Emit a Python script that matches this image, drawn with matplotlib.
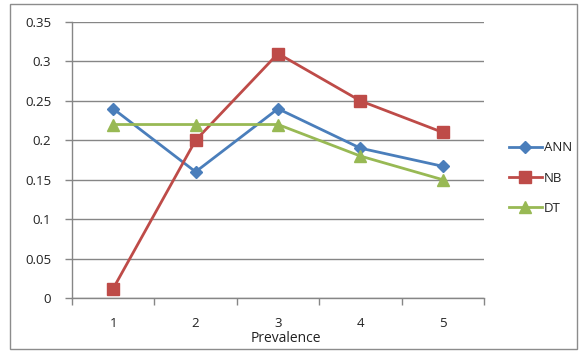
import matplotlib
matplotlib.use("Agg")
import matplotlib.pyplot as plt
from matplotlib.patches import Rectangle

prevalence = [1, 2, 3, 4, 5]
ann = [0.24, 0.16, 0.24, 0.19, 0.167]
nb = [0.012, 0.20, 0.31, 0.25, 0.21]
dt = [0.22, 0.22, 0.22, 0.18, 0.15]
y_ticks = [0, 0.05, 0.1, 0.15, 0.2, 0.25, 0.3, 0.35]
y_labels = ["0", "0.05", "0.1", "0.15", "0.2", "0.25", "0.3", "0.35"]

plt.rcParams['font.family'] = ['Open Sans', 'DejaVu Sans']

fig = plt.figure(figsize=(5.79, 3.51), dpi=100)
fig.patch.set_facecolor("white")
fig.patches.append(Rectangle((10 / 579, 2 / 351), 567 / 579, 345 / 351,
                             transform=fig.transFigure, fill=False,
                             edgecolor="#8c8c8c", linewidth=1.0))

ax = fig.add_axes([72 / 579, 1 - 298 / 351, 412 / 579, 276 / 351])

series = [
    ("ANN", ann, "#4a7ebb", "D", 6),
    ("NB", nb, "#be4b48", "s", 8),
    ("DT", dt, "#98b954", "^", 8.5),
]
for name, vals, color, marker, ms in series:
    ax.plot(prevalence, vals, color=color, linewidth=2.0, marker=marker,
            markersize=ms, markerfacecolor=color, markeredgecolor=color,
            label=name, clip_on=False, zorder=3)

ax.set_xlim(0.5, 5.5)
ax.set_ylim(0, 0.35)
ax.set_yticks(y_ticks)
ax.set_yticklabels(y_labels)
ax.set_xticks(prevalence)
ax.set_xticks([0.5, 1.5, 2.5, 3.5, 4.5, 5.5], minor=True)
ax.tick_params(axis="x", which="major", length=0, pad=14, labelsize=9.5, colors="#222222")
ax.tick_params(axis="x", which="minor", length=5, color="#868686", width=1)
ax.tick_params(axis="y", length=5, color="#868686", width=1, labelsize=9.5,
               colors="#222222", pad=10)
for lbl in ax.get_yticklabels():
    lbl.set_color("#222222")

ax.grid(axis="y", color="#868686", linewidth=1.0)
ax.set_axisbelow(True)
for side in ["top", "right"]:
    ax.spines[side].set_visible(False)
for side in ["left", "bottom"]:
    ax.spines[side].set_color("#868686")
    ax.spines[side].set_linewidth(1.0)

fig.text(286 / 579, 1 - 339 / 351, "Prevalence", ha="center", va="center",
         fontsize=10, color="#222222")

leg = ax.legend(loc="center left", bbox_to_anchor=(509 / 579, 1 - 178 / 351),
                bbox_transform=fig.transFigure, frameon=False, fontsize=9.5,
                handlelength=2.5, handletextpad=0.15, labelspacing=1.3,
                borderaxespad=0, borderpad=0)
for t in leg.get_texts():
    t.set_color("#222222")

fig.savefig("out.png", dpi=100, facecolor="white")
